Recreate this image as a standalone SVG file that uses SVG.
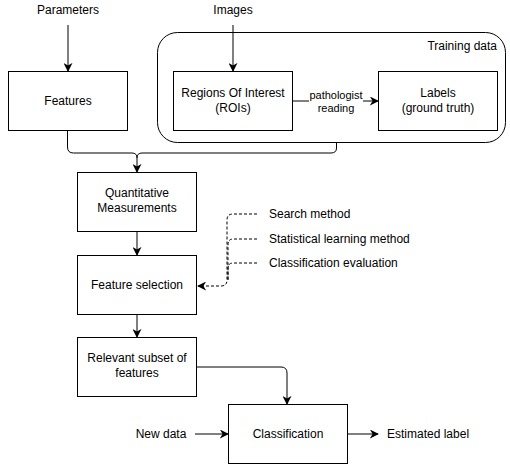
<svg xmlns="http://www.w3.org/2000/svg" width="510" height="468" viewBox="0 0 510 468">
<style>
.box{fill:#fff;stroke:#000;stroke-width:1}
.t{font-family:"Liberation Sans",Arial,sans-serif;font-size:12px;fill:#000;text-anchor:middle}
.ts{font-family:"Liberation Sans",Arial,sans-serif;font-size:11px;fill:#000;text-anchor:middle}
.tl{font-family:"Liberation Sans",Arial,sans-serif;font-size:12px;fill:#000;text-anchor:start}
.c{fill:none;stroke:#000;stroke-width:1}
.d{fill:none;stroke:#000;stroke-width:1;stroke-dasharray:3 2}
</style>
<defs>
<marker id="arr" viewBox="0 0 10 10" refX="9" refY="5" markerWidth="9" markerHeight="9" markerUnits="userSpaceOnUse" orient="auto">
<path d="M0,0 L10,5 L0,10 L3,5 Z" fill="#000"/>
</marker>
</defs>
<rect width="510" height="468" fill="#fff"/>
<g id="training-data">
<rect x="157.5" y="32.5" width="348" height="110" rx="20" ry="20" class="box"/>
<text x="497" y="50" class="t" style="text-anchor:end">Training data</text>
</g>
<g id="connectors">
<line x1="68" y1="25" x2="68" y2="71" class="c" marker-end="url(#arr)"/>
<line x1="233" y1="25" x2="233" y2="71" class="c" marker-end="url(#arr)"/>
<line x1="293" y1="101" x2="378" y2="101" class="c" marker-end="url(#arr)"/>
<path d="M67.5,131 V147 Q67.5,153 73.5,153 H132 Q137,153 137,158 V172" class="c" marker-end="url(#arr)"/>
<path d="M137,158 Q137,153 142,153 H331 Q336.5,153 336.5,148 V142" class="c"/>
<line x1="137" y1="232" x2="137" y2="255" class="c" marker-end="url(#arr)"/>
<line x1="137" y1="315" x2="137" y2="337" class="c" marker-end="url(#arr)"/>
<path d="M197,367 H281 Q287,367 287,373 V404" class="c" marker-end="url(#arr)"/>
<line x1="195" y1="434" x2="228" y2="434" class="c" marker-end="url(#arr)"/>
<line x1="347" y1="434" x2="378" y2="434" class="c" marker-end="url(#arr)"/>
<path d="M257,214 H233 Q227,214 227,220 V280 Q227,286 221,286 H198" class="d" marker-end="url(#arr)"/>
<path d="M257,239 H233 Q228,239 228,245 V280" class="d"/>
<path d="M257,263 H233 Q228,263 228,269 V280" class="d"/>
</g>
<g id="parameters"><text x="68" y="14" class="t">Parameters</text></g>
<g id="images"><text x="233" y="14" class="t">Images</text></g>
<g id="features">
<rect x="8.5" y="71.5" width="119" height="59" class="box"/>
<text x="68" y="105" class="t">Features</text>
</g>
<g id="rois">
<rect x="173.5" y="71.5" width="119" height="59" class="box"/>
<text x="233" y="97" class="t">Regions Of Interest</text>
<text x="233" y="112" class="t">(ROIs)</text>
</g>
<g id="labels">
<rect x="378.5" y="71.5" width="119" height="59" class="box"/>
<text x="438" y="97" class="t">Labels</text>
<text x="438" y="112" class="t">(ground truth)</text>
</g>
<g id="pathologist-label">
<rect x="309" y="87" width="54" height="26" fill="#fff"/>
<text x="336" y="99" class="ts">pathologist</text>
<text x="336" y="112" class="ts">reading</text>
</g>
<g id="quantitative">
<rect x="77.5" y="172.5" width="119" height="59" class="box"/>
<text x="137" y="197" class="t">Quantitative</text>
<text x="137" y="212" class="t">Measurements</text>
</g>
<g id="feature-selection">
<rect x="77.5" y="255.5" width="119" height="59" class="box"/>
<text x="137" y="289" class="t">Feature selection</text>
</g>
<g id="search-method"><text x="269" y="218" class="tl">Search method</text></g>
<g id="statistical"><text x="269" y="243" class="tl">Statistical learning method</text></g>
<g id="classification-eval"><text x="269" y="267" class="tl">Classification evaluation</text></g>
<g id="relevant-subset">
<rect x="77.5" y="337.5" width="119" height="59" class="box"/>
<text x="137" y="362" class="t">Relevant subset of</text>
<text x="137" y="377" class="t">features</text>
</g>
<g id="classification">
<rect x="228.5" y="404.5" width="119" height="59" class="box"/>
<text x="288" y="438" class="t">Classification</text>
</g>
<g id="new-data"><text x="161" y="438" class="t">New data</text></g>
<g id="estimated-label"><text x="387" y="438" class="tl">Estimated label</text></g>
</svg>
